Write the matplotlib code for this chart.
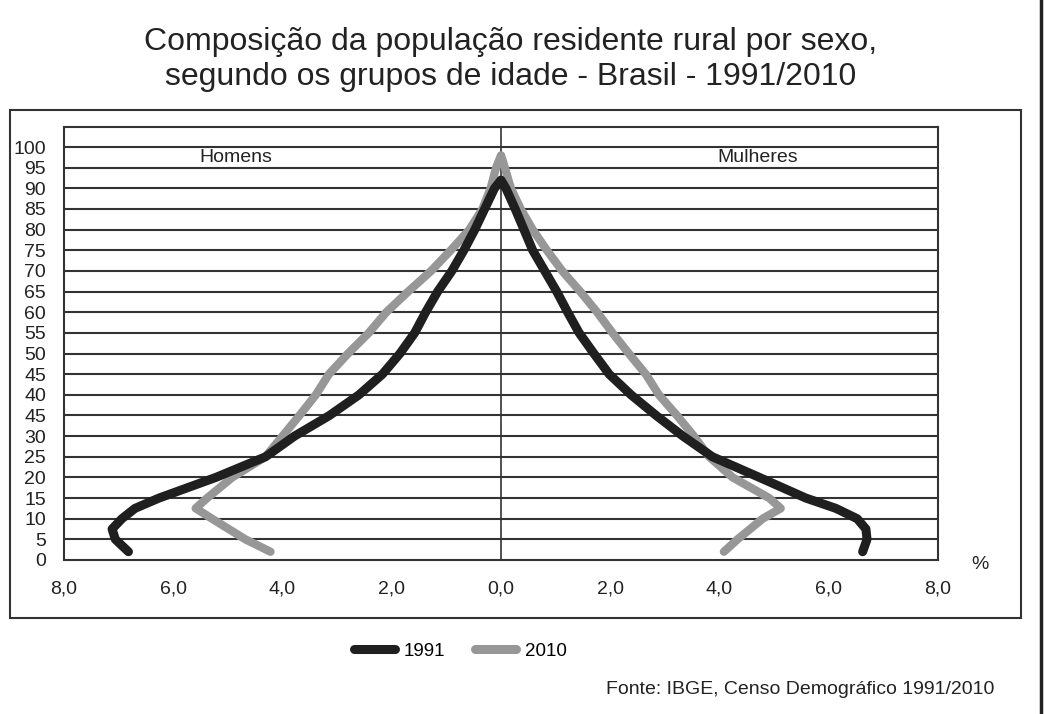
import matplotlib.pyplot as plt
from matplotlib.lines import Line2D
from matplotlib.patches import Rectangle

plt.rcParams['font.family'] = ['Liberation Sans', 'DejaVu Sans']

# idades (eixo y) e percentuais
idade_1991 = [2, 5, 7.5, 10, 12.5, 15, 20, 25, 30, 35, 40, 45, 50, 55, 60, 65, 70, 75, 80, 85, 90, 92]
homens_1991 = [-6.82, -7.06, -7.12, -6.94, -6.70, -6.26, -5.22, -4.31, -3.78, -3.14, -2.60, -2.17,
               -1.85, -1.58, -1.38, -1.16, -0.90, -0.68, -0.48, -0.30, -0.12, 0.0]
mulheres_1991 = [6.62, 6.70, 6.68, 6.52, 6.13, 5.58, 4.73, 3.87, 3.33, 2.84, 2.38, 1.98,
                 1.70, 1.43, 1.22, 1.02, 0.80, 0.58, 0.42, 0.26, 0.09, 0.0]

idade_2010 = [2, 5, 10, 12.5, 15, 20, 25, 30, 35, 40, 45, 50, 55, 60, 65, 70, 75, 80, 85, 90, 95, 98]
homens_2010 = [-4.22, -4.68, -5.29, -5.59, -5.38, -4.92, -4.31, -4.00, -3.69, -3.39, -3.15, -2.80,
               -2.42, -2.10, -1.70, -1.28, -0.92, -0.58, -0.34, -0.19, -0.09, 0.0]
mulheres_2010 = [4.08, 4.33, 4.79, 5.12, 4.91, 4.24, 3.81, 3.53, 3.22, 2.89, 2.65, 2.34,
                 2.04, 1.76, 1.45, 1.12, 0.84, 0.58, 0.36, 0.18, 0.07, 0.0]

yticks = list(range(0, 101, 5))
ytick_labels = ['0', '5', '10', '15', '20', '25', '30', '45', '40', '45', '50',
                '55', '60', '65', '70', '75', '80', '85', '90', '95', '100']
xticks = [-8, -6, -4, -2, 0, 2, 4, 6, 8]
xtick_labels = ['8,0', '6,0', '4,0', '2,0', '0,0', '2,0', '4,0', '6,0', '8,0']

c1991 = '#1f1f1f'
c2010 = '#979797'
cline = '#333333'
ctext = '#222222'

fig = plt.figure(figsize=(10.44, 7.14), dpi=100)
ax = fig.add_axes([0.0613, 0.2157, 0.8372, 0.6064])

for y in yticks[1:]:
    ax.axhline(y, color=cline, lw=1.5, zorder=1)
ax.axvline(0, color=cline, lw=1.2, zorder=1)

# linha continua: homens de baixo para cima, mulheres de cima para baixo
ax.plot(homens_2010 + mulheres_2010[::-1], idade_2010 + idade_2010[::-1], color=c2010, lw=6,
        solid_capstyle='round', solid_joinstyle='round', zorder=3, label='2010')
ax.plot(homens_1991 + mulheres_1991[::-1], idade_1991 + idade_1991[::-1], color=c1991, lw=6.5,
        solid_capstyle='round', solid_joinstyle='round', zorder=4, label='1991')

ax.set_xlim(-8, 8)
ax.set_ylim(0, 104.85)
ax.set_yticks(yticks)
ax.set_yticklabels(ytick_labels)
ax.set_xticks(xticks)
ax.set_xticklabels(xtick_labels)
ax.tick_params(axis='both', length=0, labelsize=14, colors=ctext)
ax.tick_params(axis='y', pad=13)
ax.tick_params(axis='x', pad=15)
for s in ax.spines.values():
    s.set_color(cline)
    s.set_linewidth(1.5)

ax.text(-4.85, 97.5, 'Homens', ha='center', va='center', fontsize=14, color=ctext)
ax.text(4.7, 97.5, 'Mulheres', ha='center', va='center', fontsize=14, color=ctext)

fig.text(0.939, 0.209, '%', ha='center', va='center', fontsize=14, color=ctext)

fig.text(0.489, 0.941, 'Composição da população residente rural por sexo,', ha='center',
         va='center', fontsize=23, color=ctext)
fig.text(0.489, 0.892, 'segundo os grupos de idade - Brasil - 1991/2010', ha='center',
         va='center', fontsize=23, color=ctext)

handles = [Line2D([], [], color=c1991, lw=6.5, solid_capstyle='round'),
           Line2D([], [], color=c2010, lw=6.5, solid_capstyle='round')]
fig.legend(handles, ['1991', '2010'], loc='center', bbox_to_anchor=(0.441, 0.088), ncol=2,
           frameon=False, fontsize=13.5, handlelength=2.2, handletextpad=0.45, columnspacing=1.6)

fig.text(0.952, 0.034, 'Fonte: IBGE, Censo Demográfico 1991/2010', ha='right', va='center',
         fontsize=14, color=ctext)

# moldura externa e linha da borda direita
fig.add_artist(Rectangle((0.0096, 0.1345), 0.9684, 0.7115, transform=fig.transFigure,
                         fill=False, edgecolor=cline, lw=1.5))
fig.add_artist(Line2D([0.997, 0.997], [0, 1], transform=fig.transFigure, color=ctext, lw=2.5))

fig.savefig('out.png', dpi=100)
